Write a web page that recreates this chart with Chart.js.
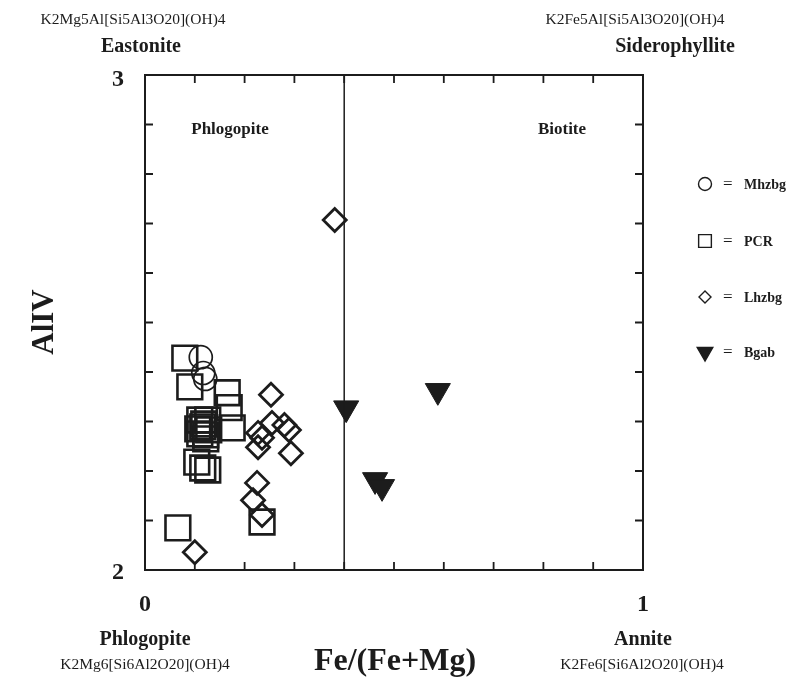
<!DOCTYPE html>
<html>
<head>
<meta charset="utf-8">
<script src="https://cdn.jsdelivr.net/npm/chart.js@4"></script>
<style>
  html, body { margin: 0; padding: 0; background: #fff; }
  #wrap { width: 803px; height: 681px; position: relative; }
</style>
</head>
<body>
<div id="wrap"><canvas id="c" width="803" height="681"></canvas></div>
<script>
// Fe/(Fe+Mg) vs AlIV for biotite analyses, by rock group
const mhzbgX = [0.112, 0.117, 0.121];
const mhzbgY = [2.430, 2.398, 2.386];

const pcrX = [0.080, 0.090, 0.165, 0.169, 0.175, 0.110, 0.126, 0.116, 0.128, 0.110, 0.122, 0.118, 0.106, 0.122, 0.104, 0.116, 0.126, 0.066, 0.235];
const pcrY = [2.428, 2.370, 2.358, 2.328, 2.287, 2.303, 2.303, 2.289, 2.283, 2.275, 2.273, 2.295, 2.285, 2.265, 2.218, 2.206, 2.202, 2.085, 2.097];

const lhzbgX = [0.381, 0.253, 0.255, 0.280, 0.289, 0.227, 0.235, 0.227, 0.293, 0.225, 0.217, 0.235, 0.100];
const lhzbgY = [2.707, 2.354, 2.297, 2.293, 2.283, 2.277, 2.267, 2.248, 2.236, 2.176, 2.141, 2.111, 2.036];

const bgabX = [0.404, 0.588, 0.462, 0.476];
const bgabY = [2.327, 2.362, 2.182, 2.168];

const xTicks = [0, 0.1, 0.2, 0.3, 0.4, 0.5, 0.6, 0.7, 0.8, 0.9, 1];
const yTicks = [2, 2.1, 2.2, 2.3, 2.4, 2.5, 2.6, 2.7, 2.8, 2.9, 3];
const boundaryX = 0.4;

const toPoints = (xs, ys) => xs.map((x, i) => ({ x: x, y: ys[i] }));

const INK = '#1c1c1c';
const NONE = 'rgba(0,0,0,0)';
const SERIF = '"Liberation Serif", "DejaVu Serif", serif';

const datasets = [
  { label: 'Mhzbg', data: toPoints(mhzbgX, mhzbgY), pointStyle: 'circle', pointRadius: 11.5,
    borderColor: INK, backgroundColor: NONE, borderWidth: 1.7, legendRadius: 6.5 },
  { label: 'PCR', data: toPoints(pcrX, pcrY), pointStyle: 'rect', pointRadius: 17.5,
    borderColor: INK, backgroundColor: NONE, borderWidth: 2.6, legendRadius: 9 },
  { label: 'Lhzbg', data: toPoints(lhzbgX, lhzbgY), pointStyle: 'rectRot', pointRadius: 11.5,
    borderColor: INK, backgroundColor: NONE, borderWidth: 2.8, legendRadius: 6 },
  { label: 'Bgab', data: toPoints(bgabX, bgabY), pointStyle: 'triangle', pointRadius: 14.5, rotation: 180,
    borderColor: INK, backgroundColor: INK, borderWidth: 1, legendRadius: 9 }
];

// Frame, inward tick marks, the Phlogopite/Biotite divide, labels and the key
const decorations = {
  id: 'decorations',
  afterDraw(chart) {
    const ctx = chart.ctx;
    const xs = chart.scales.x, ys = chart.scales.y;
    const L = xs.getPixelForValue(0), R = xs.getPixelForValue(1);
    const T = ys.getPixelForValue(3), B = ys.getPixelForValue(2);
    ctx.save();
    ctx.strokeStyle = INK;
    ctx.lineWidth = 2;
    ctx.strokeRect(L, T, R - L, B - T);

    const tl = 8;
    ctx.lineWidth = 1.8;
    ctx.beginPath();
    xTicks.slice(1, -1).forEach(v => {
      const p = xs.getPixelForValue(v);
      ctx.moveTo(p, B); ctx.lineTo(p, B - tl);
      ctx.moveTo(p, T); ctx.lineTo(p, T + tl);
    });
    yTicks.slice(1, -1).forEach(v => {
      const p = ys.getPixelForValue(v);
      ctx.moveTo(L, p); ctx.lineTo(L + tl, p);
      ctx.moveTo(R, p); ctx.lineTo(R - tl, p);
    });
    ctx.stroke();

    // boundary line
    const bx = xs.getPixelForValue(boundaryX);
    ctx.lineWidth = 1.5;
    ctx.beginPath();
    ctx.moveTo(bx, T); ctx.lineTo(bx, B);
    ctx.stroke();

    ctx.fillStyle = INK;
    ctx.textAlign = 'center';
    ctx.textBaseline = 'middle';
    const text = (s, x, y, size, bold) => {
      ctx.font = (bold ? 'bold ' : '') + size + 'px ' + SERIF;
      ctx.fillText(s, x, y);
    };

    // axis end labels
    text('3', L - 27, T + 5, 24, true);
    text('2', L - 27, B + 3, 24, true);
    text('0', L, B + 35, 24, true);
    text('1', R, B + 35, 24, true);

    // field names
    text('Phlogopite', 230, 130, 17, true);
    text('Biotite', 562, 130, 17, true);

    // end-members
    text('K2Mg5Al[Si5Al3O20](OH)4', 133, 20, 15.5, false);
    text('Eastonite', 141, 47, 20, true);
    text('K2Fe5Al[Si5Al3O20](OH)4', 635, 20, 15.5, false);
    text('Siderophyllite', 675, 47, 20, true);
    text('Phlogopite', 145, 640, 20, true);
    text('K2Mg6[Si6Al2O20](OH)4', 145, 665, 15.5, false);
    text('Annite', 643, 640, 20, true);
    text('K2Fe6[Si6Al2O20](OH)4', 642, 665, 15.5, false);

    // axis titles
    text('Fe/(Fe+Mg)', 395, 662, 32, true);
    ctx.save();
    ctx.translate(45, 322);
    ctx.rotate(-Math.PI / 2);
    text('AlIV', 0, 0, 31, true);
    ctx.restore();

    // key
    const keyY = [184, 241, 297, 352];
    chart.data.datasets.forEach((ds, i) => {
      const y = keyY[i];
      ctx.strokeStyle = INK;
      ctx.fillStyle = ds.backgroundColor;
      ctx.lineWidth = 1.4;
      Chart.helpers.drawPoint(ctx, {
        pointStyle: ds.pointStyle, radius: ds.legendRadius, rotation: ds.rotation || 0, borderWidth: 1.4
      }, 705, y);
      ctx.fillStyle = INK;
      ctx.textAlign = 'left';
      ctx.font = '17px ' + SERIF;
      ctx.fillText('=', 723, y + 1);
      ctx.font = 'bold 14px ' + SERIF;
      ctx.fillText(ds.label, 744, y + 1);
    });
    ctx.restore();
  }
};

new Chart(document.getElementById('c'), {
  type: 'scatter',
  data: { datasets: datasets },
  options: {
    responsive: false,
    animation: false,
    layout: { padding: { left: 145, right: 160, top: 75, bottom: 111 } },
    plugins: { legend: { display: false }, tooltip: { enabled: false } },
    scales: {
      x: { type: 'linear', min: 0, max: 1, display: false },
      y: { type: 'linear', min: 2, max: 3, display: false }
    }
  },
  plugins: [decorations]
});
</script>
</body>
</html>
